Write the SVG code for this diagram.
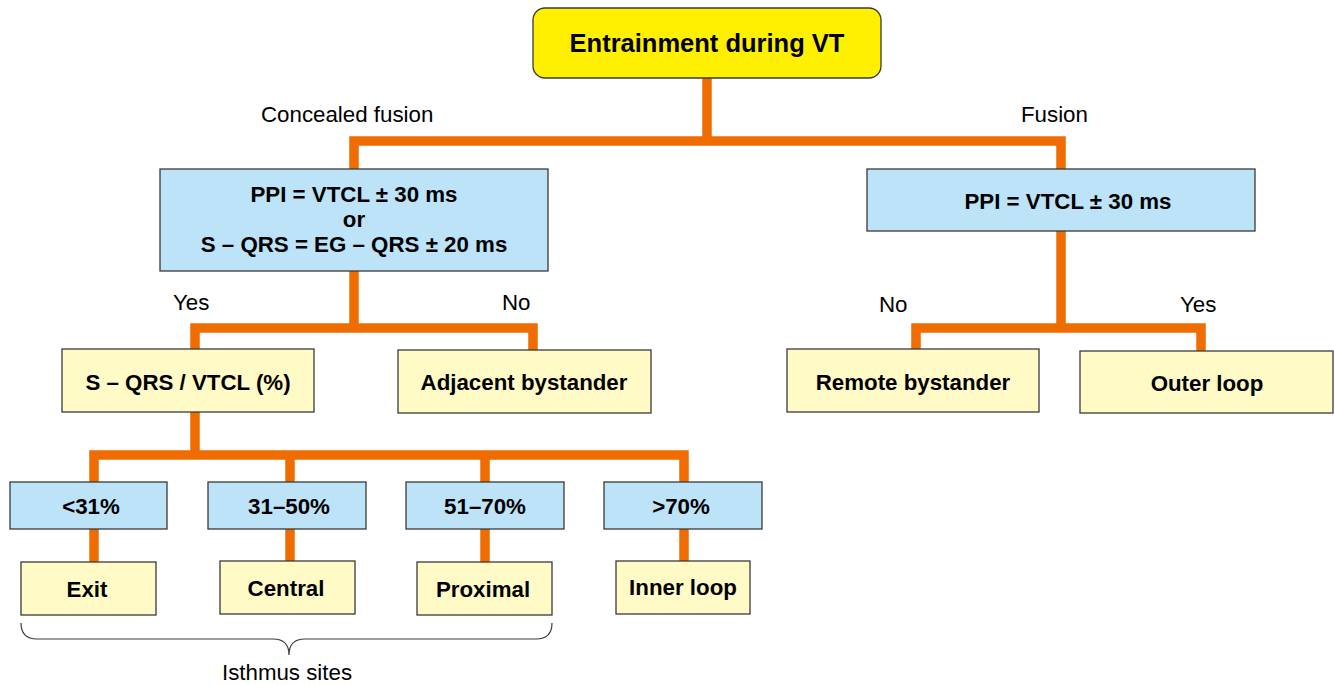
<svg xmlns="http://www.w3.org/2000/svg" width="1334" height="685" viewBox="0 0 1334 685">
<style>
.box{stroke:#3a3a3a;stroke-width:1.3}
.yt{fill:#FFF000}
.bl{fill:#BCE3F8}
.ly{fill:#FFFAC6}
.t{font-family:"Liberation Sans",Arial,sans-serif;font-weight:bold;font-size:22.3px;fill:#000;text-anchor:middle}
.lab{font-family:"Liberation Sans",Arial,sans-serif;font-size:22.3px;fill:#000}
.c{fill:none;stroke:#EE6C00;stroke-width:9.5;stroke-linejoin:miter;stroke-linecap:butt}
</style>
<rect width="1334" height="685" fill="#fff"/>
<g id="connectors">
<path class="c" d="M707,78 V141"/>
<path class="c" d="M354,169 V141 H1061 V169"/>
<path class="c" d="M354,271 V328"/>
<path class="c" d="M195,349 V328 H533 V350"/>
<path class="c" d="M1061,231 V328"/>
<path class="c" d="M916,349 V328 H1201 V351"/>
<path class="c" d="M195,412 V455"/>
<path class="c" d="M94,482 V455 H684 V482"/>
<path class="c" d="M290,455 V482"/>
<path class="c" d="M485,455 V482"/>
<path class="c" d="M94,529 V562"/>
<path class="c" d="M290,529 V561"/>
<path class="c" d="M485,529 V562"/>
<path class="c" d="M684,529 V561"/>
</g>
<g id="labels">
<text class="lab" x="261" y="122">Concealed fusion</text>
<text class="lab" x="1021" y="122">Fusion</text>
<text class="lab" x="173" y="310">Yes</text>
<text class="lab" x="502" y="310">No</text>
<text class="lab" x="879" y="312">No</text>
<text class="lab" x="1180" y="312">Yes</text>
</g>
<g id="n-root">
<rect class="box yt" x="533" y="8" width="348" height="70" rx="12"/>
<text class="t" x="707" y="52" style="font-size:25.5px">Entrainment during VT</text>
</g>
<g id="n-ppi-left">
<rect class="box bl" x="160" y="169" width="388" height="102"/>
<text class="t" x="354" y="202">PPI = VTCL ± 30 ms</text>
<text class="t" x="354" y="227">or</text>
<text class="t" x="354" y="252">S – QRS = EG – QRS ± 20 ms</text>
</g>
<g id="n-ppi-right">
<rect class="box bl" x="867" y="169" width="388" height="62"/>
<text class="t" x="1068" y="209">PPI = VTCL ± 30 ms</text>
</g>
<g id="n-sqrs">
<rect class="box ly" x="62" y="349" width="252" height="63"/>
<text class="t" x="188" y="390">S – QRS / VTCL (%)</text>
</g>
<g id="n-adjacent">
<rect class="box ly" x="398" y="350" width="253" height="63"/>
<text class="t" x="524" y="390">Adjacent bystander</text>
</g>
<g id="n-remote">
<rect class="box ly" x="787" y="349" width="252" height="63"/>
<text class="t" x="913" y="390">Remote bystander</text>
</g>
<g id="n-outer">
<rect class="box ly" x="1080" y="351" width="253" height="62"/>
<text class="t" x="1207" y="391">Outer loop</text>
</g>
<g id="n-p1">
<rect class="box bl" x="10" y="482" width="157" height="47"/>
<text class="t" x="91" y="514">&lt;31%</text>
</g>
<g id="n-p2">
<rect class="box bl" x="208" y="482" width="158" height="47"/>
<text class="t" x="289" y="514">31–50%</text>
</g>
<g id="n-p3">
<rect class="box bl" x="406" y="482" width="158" height="47"/>
<text class="t" x="485" y="514">51–70%</text>
</g>
<g id="n-p4">
<rect class="box bl" x="604" y="482" width="158" height="47"/>
<text class="t" x="681" y="514">&gt;70%</text>
</g>
<g id="n-exit">
<rect class="box ly" x="21" y="562" width="135" height="53"/>
<text class="t" x="87" y="597">Exit</text>
</g>
<g id="n-central">
<rect class="box ly" x="220" y="561" width="135" height="53"/>
<text class="t" x="286" y="596">Central</text>
</g>
<g id="n-proximal">
<rect class="box ly" x="417" y="562" width="135" height="53"/>
<text class="t" x="483" y="597">Proximal</text>
</g>
<g id="n-inner">
<rect class="box ly" x="616" y="561" width="134" height="53"/>
<text class="t" x="683" y="595">Inner loop</text>
</g>
<g id="isthmus">
<path d="M21,623 Q21,639 37,639 H273 Q289,639 289,655 Q289,639 305,639 H536 Q552,639 552,623" fill="none" stroke="#3a3a3a" stroke-width="1.2"/>
<text class="lab" x="287" y="680" text-anchor="middle">Isthmus sites</text>
</g>
</svg>
